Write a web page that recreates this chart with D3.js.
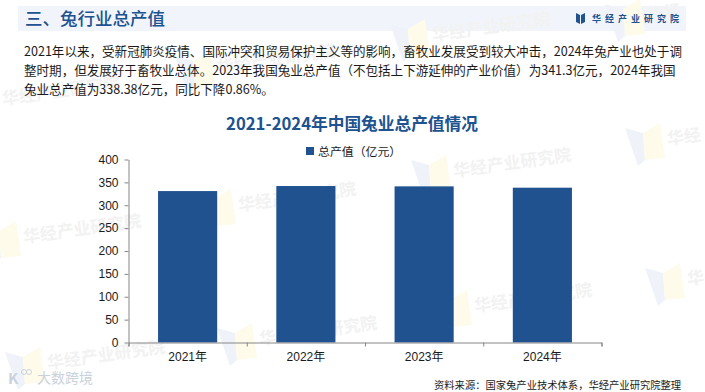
<!DOCTYPE html>
<html lang="zh">
<head>
    <meta charset="UTF-8">
    <title>兔业总产值</title>
    <script src="https://d3js.org/d3.v7.min.js"></script>
    <style>
        html, body { margin: 0; padding: 0; background: #fff; }
        svg { display: block; }
        text { font-family: "Noto Sans CJK SC", "Noto Sans", sans-serif; }
        .tick text { font-family: "Liberation Sans", "Noto Sans CJK SC", sans-serif; }
    </style>
</head>
<body>
<svg width="705" height="392"></svg>

<script>
    const years = ["2021年", "2022年", "2023年", "2024年"];
    const values = [331, 342, 341.3, 338.38];
    const yTicks = [0, 50, 100, 150, 200, 250, 300, 350, 400];
    const bodyLines = [
        "2021年以来，受新冠肺炎疫情、国际冲突和贸易保护主义等的影响，畜牧业发展受到较大冲击，2024年兔产业也处于调",
        "整时期，但发展好于畜牧业总体。2023年我国兔业总产值（不包括上下游延伸的产业价值）为341.3亿元，2024年我国",
        "兔业总产值为338.38亿元，同比下降0.86%。"
    ];
    // watermark lattice: x, y of the text start, then how much of the name fits
    const marks = [
        [3, 105, 7], [218, 73, 7], [433, 41, 7], [648, 21, 2],
        [24, 243, 7], [239, 211, 7], [454, 177, 7], [668, 145, 2],
        [48, 369, 7], [260, 345, 7], [475, 312, 7], [688, 285, 1]
    ];
    const markName = "华经产业研究院";

    const svg = d3.select("svg");
    const blue = "#20528f";

    // header band
    svg.append("rect").attr("x", 18).attr("y", 6).attr("width", 668).attr("height", 25).attr("fill", "#f1f5fb");

    // faint watermarks under everything
    const wm = svg.append("g").attr("class", "watermarks");
    marks.forEach(function(m) {
        wm.append("path")
            .attr("d", `M${m[0] - 43},${m[1] - 17}l18,5l2,27l-7,6z`)
            .attr("fill", "#eff3f9");
        wm.append("path")
            .attr("d", `M${m[0] - 25},${m[1] - 12}l17,-10l5,35l-20,2z`)
            .attr("fill", "#fefbeb");
        wm.append("text")
            .attr("x", m[0])
            .attr("y", m[1])
            .attr("font-size", 17)
            .attr("font-weight", 700)
            .attr("fill", "#f2f2f2")
            .attr("transform", `rotate(-8 ${m[0]} ${m[1]})`)
            .text(markName.slice(0, m[2]));
    });

    svg.append("text")
        .attr("x", 25).attr("y", 25)
        .attr("font-size", 17.5).attr("font-weight", 500).attr("fill", blue)
        .text("三、兔行业总产值");

    // logo
    svg.append("path").attr("d", "M576,13l4,2v9l-4,-2zM585,13l-4,2v9l4,-2z").attr("fill", blue);
    svg.append("text")
        .attr("x", 592).attr("y", 22)
        .attr("font-size", 9).attr("font-weight", 700).attr("fill", blue)
        .attr("letter-spacing", 4)
        .text("华经产业研究院");

    svg.append("g").selectAll("text")
        .data(bodyLines)
        .enter()
        .append("text")
        .attr("x", 24)
        .attr("y", (d, i) => 56 + i * 19)
        .attr("font-size", 12.56)
        .attr("fill", "#1a1a1a")
        .text(d => d);

    svg.append("text")
        .attr("x", 352).attr("y", 130)
        .attr("text-anchor", "middle")
        .attr("font-size", 16.7).attr("font-weight", 700).attr("fill", blue)
        .text("2021-2024年中国兔业总产值情况");

    // legend
    svg.append("rect").attr("x", 306).attr("y", 147).attr("width", 8).attr("height", 8).attr("fill", blue);
    svg.append("text")
        .attr("x", 318).attr("y", 155.5)
        .attr("font-size", 11.9).attr("fill", "#1a1a1a")
        .text("总产值（亿元）");

    const x = d3.scaleBand()
        .domain(years)
        .range([128.5, 601.5])
        .paddingInner(0.5)
        .paddingOuter(0.25);

    const y = d3.scaleLinear().domain([0, 400]).range([342.5, 159.5]);

    svg.selectAll("rect.bar")
        .data(values)
        .enter()
        .append("rect").attr("class", "bar")
        .attr("x", (d, i) => x(years[i]))
        .attr("y", d => y(d))
        .attr("width", x.bandwidth())
        .attr("height", d => y(0) - y(d))
        .attr("fill", blue);

    svg.append("g")
        .attr("transform", "translate(128.5,0)")
        .call(d3.axisLeft(y).tickValues(yTicks).tickSize(4).tickPadding(6).tickSizeOuter(0));

    // x axis ticks sit between the bars, so use a linear scale over the band edges
    const edges = d3.scaleLinear().domain([0, years.length]).range([128.5, 601.5]);
    const xAxis = svg.append("g")
        .attr("transform", "translate(0,342.5)");
    xAxis.append("g")
        .call(d3.axisBottom(edges).ticks(years.length).tickSize(4).tickSizeOuter(4).tickFormat(""));
    xAxis.append("g")
        .call(d3.axisBottom(x).tickSize(0).tickPadding(10))
        .select(".domain").remove();

    svg.selectAll(".domain, .tick line").attr("stroke", "#868686");
    svg.selectAll(".tick text").attr("font-size", 12).attr("fill", "#1a1a1a");

    // footer
    svg.append("text")
        .attr("x", 434).attr("y", 389)
        .attr("font-size", 10.3).attr("fill", "#1a1a1a")
        .text("资料来源：国家兔产业技术体系，华经产业研究院整理");

    // stamp in the bottom left corner
    svg.append("text")
        .attr("x", 8).attr("y", 384)
        .attr("font-size", 15).attr("font-weight", 700).attr("fill", "#c9d2dc")
        .text("K");
    svg.append("circle").attr("cx", 24).attr("cy", 372).attr("r", 2.5).attr("fill", "none").attr("stroke", "#c9d2dc");
    svg.append("circle").attr("cx", 29).attr("cy", 372).attr("r", 2.5).attr("fill", "none").attr("stroke", "#c9d2dc");
    svg.append("text")
        .attr("x", 37).attr("y", 383)
        .attr("font-size", 14).attr("fill", "#c9d2dc")
        .text("大数跨境");
</script>

</body>
</html>
